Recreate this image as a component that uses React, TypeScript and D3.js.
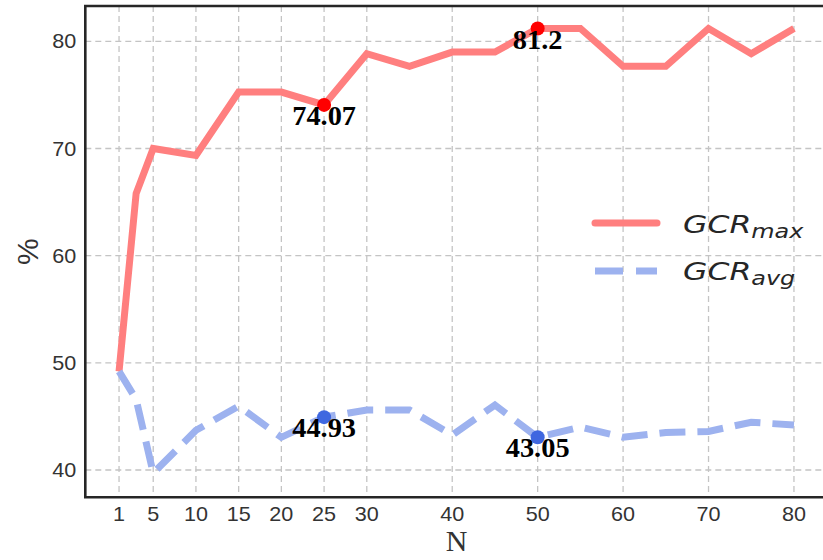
import * as d3 from "d3";

const WIDTH = 823;
const HEIGHT = 560;
// plot box (right spine falls outside the picture, as in the reference)
const BOX = { left: 85.3, right: 827.7, top: 6, bottom: 497.3 };

const nValues = [1, 3, 5, 10, 15, 20, 25, 30, 35, 40, 45, 50, 55, 60, 65, 70, 75, 80];
const gcrMax = [49.2, 65.8, 70.0, 69.35, 75.27, 75.27, 74.07, 78.85, 77.67, 79.0, 79.0, 81.2, 81.2, 77.67, 77.67, 81.2, 78.85, 81.2];
const gcrAvg = [49.2, 46.6, 39.7, 43.7, 45.96, 43.05, 44.93, 45.6, 45.6, 43.26, 46.06, 43.05, 44.0, 43.05, 43.5, 43.6, 44.45, 44.2];

const xTicks = [1, 5, 10, 15, 20, 25, 30, 40, 50, 60, 70, 80];
const yTicks = [40, 50, 60, 70, 80];

const maxMarks = [
  { n: 25, v: 74.07, label: "74.07" },
  { n: 50, v: 81.2, label: "81.2" },
];
const avgMarks = [
  { n: 25, v: 44.93, label: "44.93" },
  { n: 50, v: 43.05, label: "43.05" },
];

const RED = "#ff7f7f";
const BLUE = "#9db2ef";
const SANS = "'Liberation Sans', Arial, sans-serif";
const SERIF = "'Liberation Serif', 'Times New Roman', serif";
const MATH = "'DejaVu Sans', sans-serif";

export default function App() {
  const x = d3.scaleLinear().domain([-2.95, 83.95]).range([BOX.left, BOX.right]);
  const y = d3.scaleLinear().domain([37.45, 83.3]).range([BOX.bottom, BOX.top]);

  const maxData = nValues.map((n, i) => ({ n, v: gcrMax[i] }));
  const avgData = nValues.map((n, i) => ({ n, v: gcrAvg[i] }));

  const line = d3
    .line<{ n: number; v: number }>()
    .x((d) => x(d.n))
    .y((d) => y(d.v));

  const midX = (BOX.left + BOX.right) / 2;

  return (
    <svg
      width={WIDTH}
      height={HEIGHT}
      viewBox={`0 0 ${WIDTH} ${HEIGHT}`}
      style={{ position: "absolute", left: 0, top: 0, background: "#fff" }}
    >
      <defs>
        <clipPath id="plot-clip">
          <rect x={BOX.left} y={BOX.top} width={BOX.right - BOX.left} height={BOX.bottom - BOX.top} />
        </clipPath>
      </defs>

      {/* grid */}
      {yTicks.map((t) => (
        <line
          key={`gy-${t}`}
          x1={BOX.left}
          x2={BOX.right}
          y1={y(t)}
          y2={y(t)}
          stroke="#c4c4c4"
          strokeWidth={1.3}
          strokeDasharray="6,4"
        />
      ))}
      {xTicks.map((t) => (
        <line
          key={`gx-${t}`}
          x1={x(t)}
          x2={x(t)}
          y1={BOX.top}
          y2={BOX.bottom}
          stroke="#c4c4c4"
          strokeWidth={1.3}
          strokeDasharray="6,4"
        />
      ))}

      <g clipPath="url(#plot-clip)">
        <path d={line(maxData) || ""} fill="none" stroke={RED} strokeWidth={7} strokeLinejoin="miter" />
        <path
          d={line(avgData) || ""}
          fill="none"
          stroke={BLUE}
          strokeWidth={7}
          strokeDasharray="26,12"
          strokeLinejoin="miter"
        />
        {maxMarks.map((m) => (
          <circle key={`mm-${m.n}`} cx={x(m.n)} cy={y(m.v)} r={7} fill="#ff0000" />
        ))}
        {avgMarks.map((m) => (
          <circle key={`am-${m.n}`} cx={x(m.n)} cy={y(m.v)} r={7} fill="#3f67e0" />
        ))}
      </g>

      {[...maxMarks, ...avgMarks].map((m) => (
        <text
          key={`lab-${m.label}`}
          transform={`translate(${x(m.n)} ${y(m.v) + 20}) scale(1.05 1)`}
          textAnchor="middle"
          fontFamily={SERIF}
          fontWeight="bold"
          fontSize={27}
          fill="#000"
        >
          {m.label}
        </text>
      ))}

      {/* spines */}
      <path
        d={`M${BOX.right + 10},${BOX.top} H${BOX.left} V${BOX.bottom} H${BOX.right + 10}`}
        fill="none"
        stroke="#262626"
        strokeWidth={2.6}
      />

      {/* tick labels */}
      {yTicks.map((t) => (
        <text
          key={`ty-${t}`}
          transform={`translate(${BOX.left - 9} ${y(t) + 7}) scale(1.08 1)`}
          textAnchor="end"
          fontFamily={SANS}
          fontSize={20}
          fill="#333"
        >
          {t}
        </text>
      ))}
      {xTicks.map((t) => (
        <text
          key={`tx-${t}`}
          transform={`translate(${x(t)} 521) scale(1.08 1)`}
          textAnchor="middle"
          fontFamily={SANS}
          fontSize={20}
          fill="#333"
        >
          {t}
        </text>
      ))}

      {/* axis labels */}
      <text
        transform={`translate(38 ${(BOX.top + BOX.bottom) / 2}) rotate(-90)`}
        textAnchor="middle"
        fontFamily={SANS}
        fontSize={30}
        fill="#333"
      >
        %
      </text>
      <text x={midX} y={551} textAnchor="middle" fontFamily={SERIF} fontSize={30} fill="#333">
        N
      </text>

      {/* legend */}
      <line x1={595} x2={657} y1={223} y2={223} stroke={RED} strokeWidth={7} strokeLinecap="round" />
      <text transform="translate(683 233) scale(1.26 1)" fontFamily={MATH} fontStyle="italic" fontSize={25} fill="#262626">
        GCR
        <tspan dy={5} fontSize={19}>
          max
        </tspan>
      </text>
      <line x1={595} x2={657} y1={271} y2={271} stroke={BLUE} strokeWidth={7} strokeDasharray="28,13" />
      <text transform="translate(683 280) scale(1.26 1)" fontFamily={MATH} fontStyle="italic" fontSize={25} fill="#262626">
        GCR
        <tspan dy={5} fontSize={19}>
          avg
        </tspan>
      </text>
    </svg>
  );
}
